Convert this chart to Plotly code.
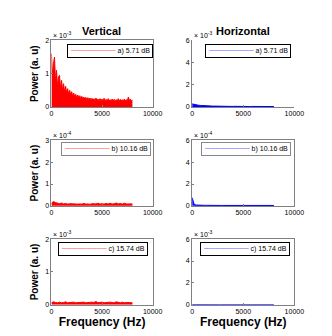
import plotly.graph_objects as go
from plotly.subplots import make_subplots

# frequency grids (Hz)
freq_fine = list(range(0, 8100, 100))
freq = list(range(0, 8200, 200))

# a) 5.71 dB, vertical  (x 1e-3)
vert_a = [1.60, 0.95, 1.30, 1.50, 0.80, 1.10, 0.60, 0.90, 0.95, 0.55,
          0.80, 0.50, 0.70, 0.45, 0.62, 0.42, 0.55, 0.38, 0.50, 0.36,
          0.46, 0.32, 0.42, 0.30, 0.38, 0.28, 0.36, 0.27, 0.34, 0.25,
          0.32, 0.24, 0.30, 0.23, 0.29, 0.22, 0.28, 0.21, 0.27, 0.20,
          0.26, 0.20, 0.25, 0.19, 0.27, 0.20, 0.24, 0.18, 0.25, 0.19,
          0.24, 0.18, 0.26, 0.19, 0.23, 0.17, 0.25, 0.18, 0.22, 0.17,
          0.24, 0.18, 0.23, 0.17, 0.22, 0.18, 0.25, 0.17, 0.23, 0.18,
          0.22, 0.17, 0.24, 0.18, 0.22, 0.19, 0.30, 0.20, 0.23, 0.19, 0.20]
# a) 5.71 dB, horizontal (x 1e-3)
horiz_a = [0.28, 0.22, 0.20, 0.16, 0.14, 0.12, 0.11, 0.10, 0.09, 0.09,
           0.08, 0.08, 0.07, 0.08, 0.07, 0.06, 0.07, 0.06, 0.06, 0.06,
           0.05, 0.06, 0.05, 0.05, 0.06, 0.05, 0.05, 0.05, 0.04, 0.05,
           0.05, 0.04, 0.05, 0.04, 0.04, 0.05, 0.04, 0.04, 0.04, 0.04, 0.04]
# b) 10.16 dB, vertical (x 1e-4)
vert_b = [0.12, 0.20, 0.15, 0.12, 0.10, 0.13, 0.09, 0.11, 0.08, 0.10,
          0.09, 0.08, 0.10, 0.08, 0.09, 0.08, 0.11, 0.08, 0.09, 0.07,
          0.10, 0.08, 0.09, 0.12, 0.08, 0.10, 0.08, 0.11, 0.09, 0.12,
          0.08, 0.10, 0.13, 0.09, 0.11, 0.08, 0.12, 0.09, 0.10, 0.08, 0.09]
# b) 10.16 dB, horizontal (x 1e-4)
horiz_b = [0.75, 0.12, 0.08, 0.06, 0.06, 0.05, 0.05, 0.05, 0.04, 0.05,
           0.04, 0.04, 0.05, 0.04, 0.04, 0.04, 0.04, 0.05, 0.04, 0.04,
           0.04, 0.04, 0.04, 0.04, 0.04, 0.04, 0.05, 0.04, 0.04, 0.04,
           0.04, 0.04, 0.04, 0.04, 0.04, 0.04, 0.04, 0.04, 0.04, 0.04, 0.04]
# c) 15.74 dB, vertical (x 1e-3)
vert_c = [0.06, 0.09, 0.07, 0.06, 0.08, 0.06, 0.07, 0.09, 0.06, 0.07,
          0.06, 0.08, 0.06, 0.07, 0.06, 0.07, 0.08, 0.06, 0.07, 0.06,
          0.08, 0.07, 0.10, 0.06, 0.07, 0.08, 0.06, 0.07, 0.06, 0.08,
          0.07, 0.06, 0.09, 0.07, 0.06, 0.08, 0.06, 0.07, 0.06, 0.07, 0.06]
# c) 15.74 dB, horizontal (x 1e-3)
horiz_c = [0.01, 0.005, 0.005, 0.005, 0.005, 0.005, 0.005, 0.005, 0.005, 0.005,
           0.005, 0.005, 0.005, 0.005, 0.005, 0.005, 0.005, 0.005, 0.005, 0.005,
           0.005, 0.005, 0.005, 0.005, 0.005, 0.005, 0.03, 0.005, 0.005, 0.005,
           0.005, 0.005, 0.005, 0.005, 0.005, 0.005, 0.005, 0.005, 0.03, 0.005, 0.005]

labels = ["a) 5.71 dB", "b) 10.16 dB", "c) 15.74 dB"]
W, H = 332, 336
FONT = "Arial, Liberation Sans, sans-serif"

panels = [
    # row, col, x, y, scale, ymax, yticks, line colour, fill, exponent, legend box (right px, top px)
    (1, 1, freq_fine, vert_a, 1e-3, 2, [0, 1, 2], "#ff5050", "red", "-3", (148, 33)),
    (1, 2, freq, horiz_a, 1e-3, 6, [0, 2, 4, 6], "#6060ff", "blue", "-3", (292, 33)),
    (2, 1, freq, vert_b, 1e-4, 3, [0, 1, 2, 3], "#ff5050", "red", "-4", (146, 133)),
    (2, 2, freq, horiz_b, 1e-4, 6, [0, 2, 4, 6], "#6060ff", "blue", "-4", (292, 133)),
    (3, 1, freq, vert_c, 1e-3, 2, [0, 1, 2], "#ff5050", "red", "-3", (143, 235)),
    (3, 2, freq, horiz_c, 1e-3, 6, [0, 2, 4, 6], "#6060ff", "blue", "-3", (290, 235)),
]

xdom = {1: [43 / W, 148 / W], 2: [189 / W, 295 / W]}
ydom = {1: [1 - 97 / H, 1 - 29 / H], 2: [1 - 198 / H, 1 - 131 / H], 3: [1 - 299 / H, 1 - 232 / H]}

fig = make_subplots(rows=3, cols=2)
annotations = []
for i, (r, c, xs, ys, sc, ymax, yt, lc, fc, ex, (lx, ly)) in enumerate(panels):
    fig.add_trace(go.Scatter(x=xs, y=[v * sc for v in ys], mode="lines",
                             line=dict(color=fc, width=1), fill="tozeroy",
                             fillcolor=fc, showlegend=False), row=r, col=c)
    box = not (r == 1 and c == 2)
    fig.update_xaxes(range=[0, 10000], tickvals=[0, 5000, 10000],
                     ticktext=["0", "5000", "10000"], domain=xdom[c],
                     showline=True, linecolor="#808080", mirror=box, ticks="inside",
                     ticklen=2, tickcolor="#808080", showgrid=False, zeroline=False,
                     tickfont=dict(family=FONT, size=7, color="black"), row=r, col=c)
    fig.update_yaxes(range=[0, ymax * sc], tickvals=[t * sc for t in yt],
                     ticktext=[str(t) for t in yt], domain=ydom[r],
                     showline=True, linecolor="#808080", mirror=box, ticks="inside",
                     ticklen=2, tickcolor="#808080", showgrid=False, zeroline=False,
                     tickfont=dict(family=FONT, size=7, color="black"), row=r, col=c)
    if r == 3:
        fig.update_xaxes(title=dict(text="<b>Frequency (Hz)</b>", standoff=3,
                                    font=dict(family=FONT, size=12, color="black")), row=r, col=c)
    if c == 1:
        fig.update_yaxes(title=dict(text="<b>Power (a. u)</b>", standoff=4,
                                    font=dict(family=FONT, size=10, color="black")), row=r, col=c)
    # exponent label
    annotations.append(dict(x=xdom[c][0], y=ydom[r][1], xref="paper", yref="paper",
                            xanchor="left", yanchor="bottom", showarrow=False, yshift=-1,
                            text=f"× 10<sup>{ex}</sup>",
                            font=dict(family=FONT, size=7, color="black")))
    # legend box
    annotations.append(dict(x=lx / W, y=1 - ly / H, xref="paper", yref="paper",
                            xanchor="right", yanchor="top", showarrow=False,
                            text=f"<span style='color:{lc}'>─────────</span> {labels[r - 1]}",
                            bgcolor="white", bordercolor="black" if r != 2 else "#888888",
                            borderwidth=1, borderpad=2,
                            font=dict(family=FONT, size=7, color="black")))

annotations.append(dict(x=95 / W, y=1 - 19 / H, xref="paper", yref="paper", showarrow=False,
                        xanchor="center", yanchor="middle",
                        text="<b>Vertical</b>", font=dict(family=FONT, size=11, color="black")))
annotations.append(dict(x=242 / W, y=1 - 19 / H, xref="paper", yref="paper", showarrow=False,
                        xanchor="center", yanchor="middle",
                        text="<b>Horizontal</b>", font=dict(family=FONT, size=11, color="black")))

fig.update_layout(width=W, height=H, margin=dict(l=0, r=0, t=0, b=0), showlegend=False,
                  paper_bgcolor="white", plot_bgcolor="white", annotations=annotations)
fig.write_html("out.html")
